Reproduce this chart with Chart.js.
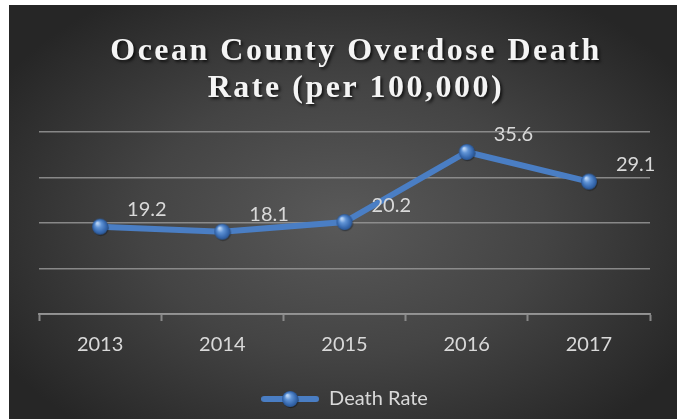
<!DOCTYPE html>
<html>
<head>
<meta charset="utf-8">
<script src="https://cdn.jsdelivr.net/npm/chart.js@4.4.1/dist/chart.umd.min.js"></script>
<style>
    html, body { margin: 0; padding: 0; background: #ffffff; }
    #wrap {
        position: absolute; left: 9px; top: 5px; width: 668px; height: 414px;
        background: radial-gradient(ellipse 60% 65% at 50% 52%, #595959 0%, #444444 50%, #262626 100%);
    }
</style>
</head>
<body>
<div id="wrap"><canvas id="rateChart" width="668" height="414"></canvas></div>
<script>
const years = ['2013', '2014', '2015', '2016', '2017'];
const deathRate = [19.2, 18.1, 20.2, 35.6, 29.1];
const titleLines = ['Ocean County Overdose Death', 'Rate (per 100,000)'];
const seriesName = 'Death Rate';

const lineBlue = '#4a7ec4';
const textGrey = '#d9d9d9';
const gridGrey = 'rgba(150, 150, 150, 0.85)';

// glossy ball used for the markers
function makeBall(size, r) {
    const c = document.createElement('canvas');
    c.width = size; c.height = size;
    const g = c.getContext('2d');
    const cx = size / 2, cy = size / 2;
    g.fillStyle = 'rgba(0,0,0,0.35)';
    g.beginPath(); g.arc(cx + 0.8, cy + 1.2, r, 0, Math.PI * 2); g.fill();
    const grad = g.createRadialGradient(cx - r * 0.35, cy - r * 0.45, r * 0.1, cx, cy, r);
    grad.addColorStop(0, '#b9d4f5');
    grad.addColorStop(0.35, '#5f93d6');
    grad.addColorStop(0.8, '#3567ad');
    grad.addColorStop(1, '#2a5592');
    g.fillStyle = grad;
    g.beginPath(); g.arc(cx, cy, r, 0, Math.PI * 2); g.fill();
    return c;
}

function makeLegendIcon() {
    const c = document.createElement('canvas');
    c.width = 58; c.height = 20;
    const g = c.getContext('2d');
    g.strokeStyle = lineBlue;
    g.lineWidth = 6;
    g.lineCap = 'round';
    g.beginPath(); g.moveTo(3, 10); g.lineTo(55, 10); g.stroke();
    g.drawImage(makeBall(20, 8), 19, 0);
    return c;
}

const ball = makeBall(20, 8);

// title with letter spacing and soft shadow
const titlePlugin = {
    id: 'titlePlugin',
    afterDraw(chart) {
        const ctx = chart.ctx;
        ctx.save();
        ctx.font = 'bold 32px "Liberation Serif", "Times New Roman", serif';
        ctx.letterSpacing = '2.5px';
        ctx.fillStyle = '#f4f4f4';
        ctx.textAlign = 'center';
        ctx.textBaseline = 'alphabetic';
        ctx.shadowColor = 'rgba(0,0,0,0.7)';
        ctx.shadowBlur = 3;
        ctx.shadowOffsetX = 2;
        ctx.shadowOffsetY = 2;
        ctx.fillText(titleLines[0], 347, 55);
        ctx.fillText(titleLines[1], 347, 92);
        ctx.restore();
    }
};

// value labels up and to the right of each point
const valueLabels = {
    id: 'valueLabels',
    afterDatasetsDraw(chart) {
        const ctx = chart.ctx;
        const meta = chart.getDatasetMeta(0);
        ctx.save();
        ctx.font = '20px Lato, "Open Sans", sans-serif';
        ctx.fillStyle = textGrey;
        ctx.textAlign = 'left';
        ctx.textBaseline = 'middle';
        meta.data.forEach((pt, i) => {
            ctx.fillText(deathRate[i].toFixed(1), pt.x + 27, pt.y - 17);
        });
        ctx.restore();
    }
};

new Chart(document.getElementById('rateChart'), {
    type: 'line',
    data: {
        labels: years,
        datasets: [{
            label: seriesName,
            data: deathRate,
            borderColor: lineBlue,
            backgroundColor: lineBlue,
            borderWidth: 6,
            tension: 0,
            pointStyle: ball,
            pointRadius: 9,
            pointHoverRadius: 9
        }]
    },
    options: {
        responsive: false,
        animation: false,
        layout: { padding: { top: 127, left: 30, right: 27, bottom: 0 } },
        plugins: {
            title: { display: false },
            tooltip: { enabled: false },
            legend: {
                display: true,
                position: 'bottom',
                labels: {
                    usePointStyle: true,
                    pointStyle: makeLegendIcon(),
                    pointStyleWidth: 58,
                    color: textGrey,
                    font: { family: 'Lato, "Open Sans", sans-serif', size: 20 },
                    padding: 10
                }
            }
        },
        scales: {
            x: {
                offset: true,
                grid: {
                    offset: true,
                    drawOnChartArea: false,
                    drawTicks: true,
                    tickLength: 7,
                    tickWidth: 2,
                    tickColor: gridGrey
                },
                border: { color: gridGrey, width: 2 },
                ticks: {
                    color: textGrey,
                    padding: 12,
                    font: { family: 'Lato, "Open Sans", sans-serif', size: 20 }
                },
                afterFit(scale) { scale.height = 65; }
            },
            y: {
                min: 0,
                max: 40,
                ticks: { display: false, stepSize: 10 },
                grid: { color: gridGrey, lineWidth: 1.5, drawTicks: false },
                border: { display: false }
            }
        }
    },
    plugins: [titlePlugin, valueLabels]
});
</script>
</body>
</html>
